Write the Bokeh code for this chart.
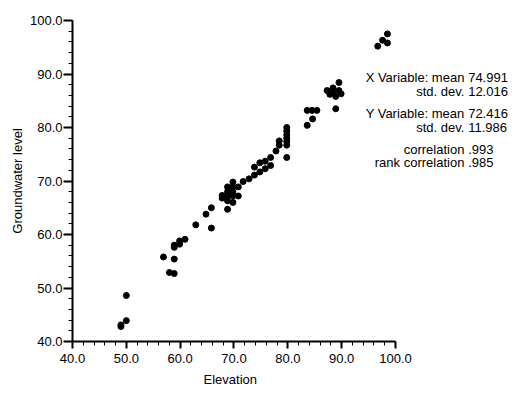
from bokeh.plotting import figure
from bokeh.models import Range1d, SingleIntervalTicker, NumeralTickFormatter, Label, ColumnDataSource, Title
from bokeh.embed import file_html
from bokeh.resources import INLINE

# Data
elevation = [49.0, 49.0, 50.0, 50.0, 56.9, 58.0, 58.9, 58.9, 58.9, 58.9,
             59.9, 59.9, 60.9, 62.9, 64.8, 65.8, 65.8, 67.8, 67.8, 68.1,
             68.8, 68.8, 68.8, 68.8, 68.8, 69.8, 69.8, 69.8, 69.8, 69.8,
             70.8, 70.8, 71.7, 72.8, 73.8, 73.8, 74.8, 74.8, 75.8, 75.8,
             76.8, 76.8, 77.8, 78.4, 78.4, 79.8, 79.8, 79.8, 79.8, 79.8,
             79.8, 79.8, 83.6, 84.5, 85.4, 83.6, 84.6, 87.3, 87.8, 88.4,
             88.4, 88.9, 88.9, 89.5, 89.5, 89.9, 96.7, 97.6, 98.5, 98.5]
groundwater = [42.8, 43.1, 43.9, 48.6, 55.8, 52.9, 52.7, 55.4, 57.6, 58.0,
               58.2, 58.8, 59.1, 61.8, 63.8, 65.0, 61.2, 66.8, 67.3, 67.0,
               64.7, 66.3, 67.2, 68.0, 68.9, 69.8, 68.9, 68.0, 66.0, 67.2,
               68.9, 67.2, 69.9, 70.4, 71.1, 72.6, 71.7, 73.4, 72.3, 73.7,
               72.9, 74.4, 75.6, 76.7, 77.5, 74.4, 76.7, 77.4, 78.0, 78.6,
               79.3, 80.0, 83.2, 83.2, 83.2, 80.4, 81.6, 86.9, 86.2, 87.4,
               86.5, 85.8, 83.5, 88.4, 86.9, 86.3, 95.2, 96.3, 97.5, 95.8]

stat_names = ["X Variable: mean", "std. dev.", "Y Variable: mean", "std. dev.",
              "correlation", "rank correlation"]
stat_values = ["74.991", "12.016", "72.416", "11.986", ".993", ".985"]
x_label = "Elevation"
y_label = "Groundwater level"

FONT = "Liberation Sans"

# frame extends right to hold the statistics; axes are bounded to 40..100
p = figure(width=516, height=392, output_backend="svg", toolbar_location=None,
           x_range=Range1d(40, 122.48), y_range=Range1d(40, 100),
           min_border_left=72, min_border_right=0, min_border_top=20, min_border_bottom=51)
p.outline_line_color = None
p.xgrid.visible = False
p.ygrid.visible = False
p.background_fill_color = "white"
p.border_fill_color = "white"

src = ColumnDataSource(dict(x=elevation, y=groundwater))
p.scatter("x", "y", source=src, size=6, color="black")

for ax in (p.xaxis[0], p.yaxis[0]):
    ax.bounds = (40, 100)
    ax.ticker = SingleIntervalTicker(interval=10, num_minor_ticks=5)
    ax.formatter = NumeralTickFormatter(format="0.0")
    ax.axis_line_width = 2
    ax.axis_line_color = "black"
    ax.major_tick_line_width = 2
    ax.major_tick_line_color = "black"
    ax.minor_tick_line_width = 1
    ax.minor_tick_line_color = "black"
    ax.major_tick_in = 0
    ax.minor_tick_in = 0
    ax.major_label_text_font = FONT
    ax.major_label_text_font_size = "13px"
    ax.major_label_text_color = "black"
    ax.axis_label_text_font = FONT
    ax.axis_label_text_font_size = "13px"
    ax.axis_label_text_font_style = "normal"
    ax.axis_label_text_color = "black"

p.xaxis.major_tick_out = 7
p.xaxis.minor_tick_out = 4
p.xaxis.major_label_standoff = 5

# x-axis caption, placed under the 40..100 axis span like the reference
p.add_layout(Title(text=x_label, align="left", offset=131, text_font=FONT,
                   text_font_size="13px", text_font_style="normal", text_color="black",
                   standoff=9), "below")

p.yaxis.axis_label = y_label
p.yaxis.major_tick_out = 9
p.yaxis.minor_tick_out = 4
p.yaxis.major_label_standoff = 1
p.yaxis.axis_label_standoff = 2

# Statistics block
name_x = 112.8
value_x = 113.5
line_y = [89.4, 86.8, 82.6, 80.0, 75.8, 73.4]
for name, val, yy in zip(stat_names, stat_values, line_y):
    p.add_layout(Label(x=name_x, y=yy, text=name, text_align="right", text_baseline="middle",
                       text_font=FONT, text_font_size="13px", text_color="black"))
    p.add_layout(Label(x=value_x, y=yy, text=val, text_align="left", text_baseline="middle",
                       text_font=FONT, text_font_size="13px", text_color="black"))

open("out.html", "w").write(file_html(p, INLINE))
